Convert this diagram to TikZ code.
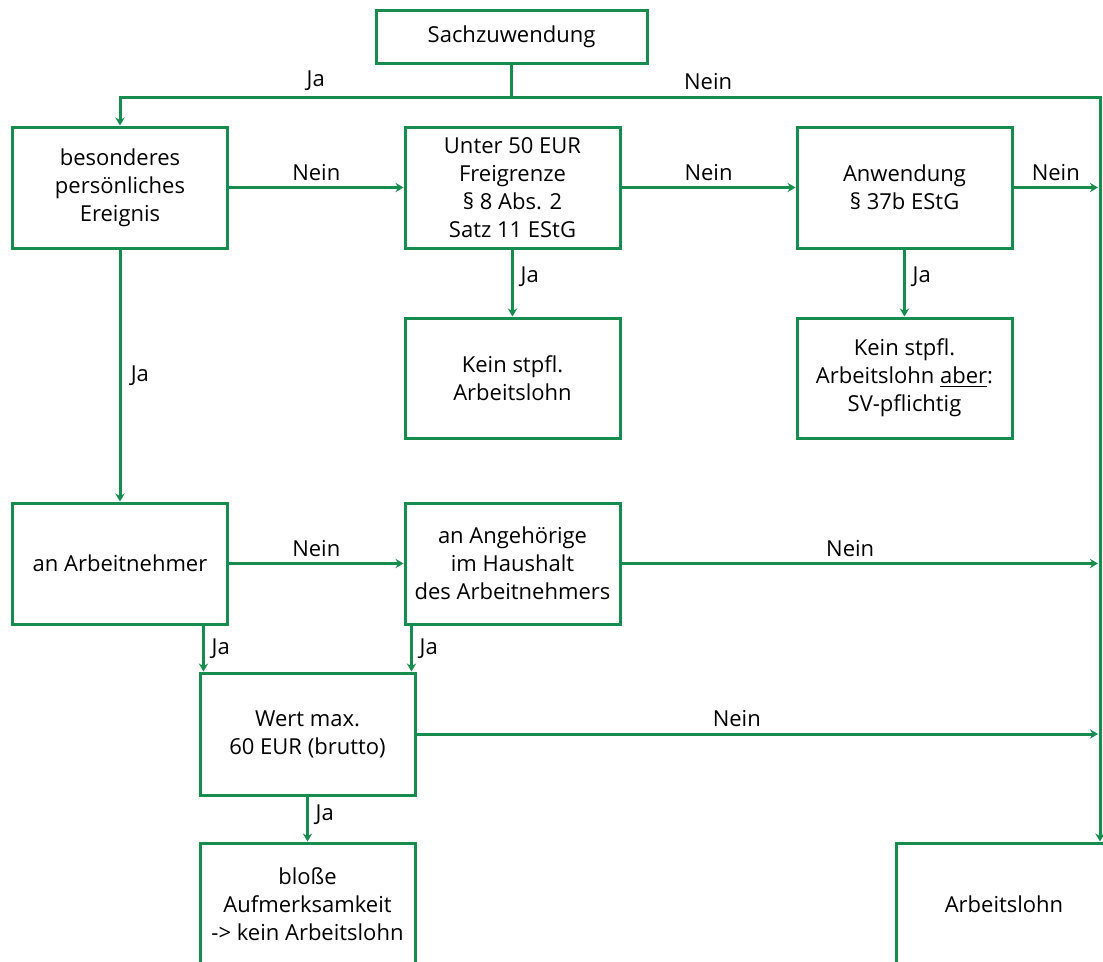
\documentclass[tikz,border=0pt]{standalone}
\usepackage{fontspec}
\setmainfont{Open Sans}
\usepackage{tikz}
\usetikzlibrary{arrows.meta,calc}
\definecolor{grn}{RGB}{22,140,78}

\begin{document}
\begin{tikzpicture}[x=0.75pt,y=-0.75pt,->,>={Stealth[length=6pt,width=7pt]},
                    line width=2.25pt,color=grn,text=black,
                    font=\fontsize{16.5pt}{21pt}\selectfont]
  \tikzstyle{box}=[rectangle,draw=grn,fill=white,align=center,
                   minimum width=161.25pt,minimum height=90.75pt]
  \tikzstyle{lbl}=[inner sep=2pt]

  \useasboundingbox (0,0) rectangle (1103,961);
  \clip (0,0) rectangle (1103,961);

  \node[box,minimum width=203.25pt,minimum height=39.75pt] (SZ) at (511.5,36.5) {Sachzuwendung};
  \node[box] (E)  at (120,187.5) {besonderes\\persönliches\\Ereignis};
  \node[box] (F)  at (512.5,187.5) {Unter 50 EUR\\Freigrenze\\§ 8 Abs. 2\\Satz 11 EStG};
  \node[box] (A)  at (904.5,187.5) {Anwendung\\§ 37b EStG};
  \node[box,minimum height=90pt] (K1) at (512.5,378) {Kein stpfl.\\Arbeitslohn};
  \node[box,minimum height=90pt] (K2) at (904.5,378) {Kein stpfl.\\Arbeitslohn \underline{aber}:\\SV-pflichtig};
  \node[box] (AN) at (120,563.5) {an Arbeitnehmer};
  \node[box] (AH) at (512.5,563.5) {an Angehörige\\im Haushalt\\des Arbeitnehmers};
  \node[box,minimum height=91.5pt] (W) at (307.5,734) {Wert max.\\60 EUR (brutto)};
  \node[box,minimum height=91.5pt] (B) at (307.5,904) {bloße\\Aufmerksamkeit\\-> kein Arbeitslohn};
  \node[box,minimum height=91.5pt] (L) at (1004,904) {Arbeitslohn};

  % free ends on the right
  \coordinate (j)   at (SZ.south |- 0,97);
  \coordinate (Lin) at (L.north -| 1100,0);
  \coordinate (r1)  at (A -| 1098,0);
  \coordinate (r2)  at (AH -| 1098,0);
  \coordinate (r3)  at (W -| 1098,0);
  \coordinate (w1)  at ($(W.north west)+(5,0)$);
  \coordinate (w2)  at ($(W.north east)+(-5,0)$);

  \draw[-] (SZ) -- (j);
  \draw (j) -| node[lbl,above=2pt,pos=.25] {Ja} (E);
  \draw (j) -| node[lbl,above=2pt,pos=.167] {Nein} (Lin);

  \draw (E) -- node[lbl,above=2pt] {Nein} (F);
  \draw (F) -- node[lbl,above=2pt] {Nein} (A);
  \draw (A) -- node[lbl,above=2pt] {Nein} (r1);
  \draw (F) -- node[lbl,right=3pt,pos=.4] {Ja} (K1);
  \draw (A) -- node[lbl,right=3pt,pos=.4] {Ja} (K2);
  \draw (E) -- node[lbl,right=5pt] {Ja} (AN);

  \draw (AN) -- node[lbl,above=2pt] {Nein} (AH);
  \draw (AH) -- node[lbl,above=2pt,pos=.48] {Nein} (r2);
  \draw (w1 |- AN.south) -- node[lbl,right=3pt] {Ja} (w1);
  \draw (w2 |- AH.south) -- node[lbl,right=3pt] {Ja} (w2);
  \draw (W) -- node[lbl,above=2pt,pos=.47] {Nein} (r3);
  \draw (W) -- node[lbl,right=3pt,pos=.4] {Ja} (B);
\end{tikzpicture}
\end{document}
